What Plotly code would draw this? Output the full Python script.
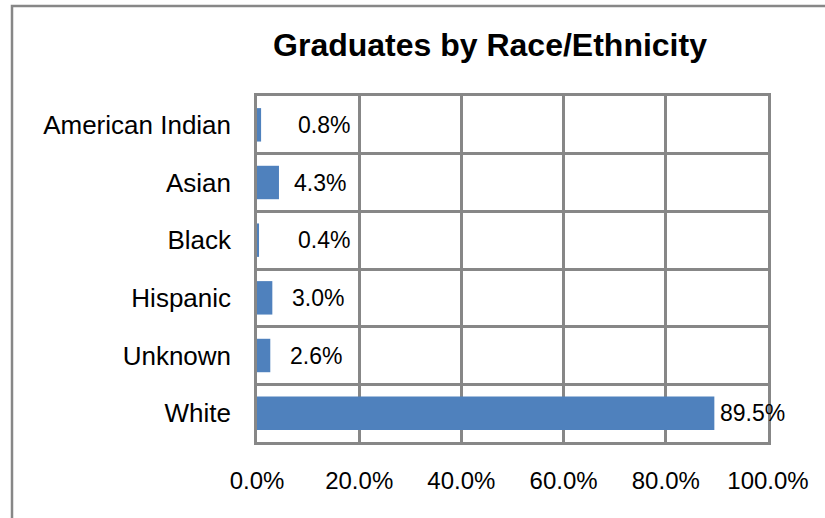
import plotly.graph_objects as go

categories = ["American Indian", "Asian", "Black", "Hispanic", "Unknown", "White"]
values = [0.8, 4.3, 0.4, 3.0, 2.6, 89.5]
label_texts = ["0.8%", "4.3%", "0.4%", "3.0%", "2.6%", "89.5%"]
label_shifts = [35, 13, 37, 18, 18, 4]
x_tickvals = [0, 20, 40, 60, 80, 100]
x_ticktext = ["0.0%", "20.0%", "40.0%", "60.0%", "80.0%", "100.0%"]

W, H = 825, 518
L, R, T, B = 257, 57, 96, 76
pw = W - L - R
ph = H - T - B

GRID = "#878787"
FONT = "Liberation Sans, Arial, sans-serif"

fig = go.Figure()
fig.add_trace(go.Bar(
    y=categories, x=values, orientation="h",
    marker=dict(color="#4F81BD", line=dict(width=0)),
    width=0.58, hoverinfo="skip",
))

for c, v, t, s in zip(categories, values, label_texts, label_shifts):
    fig.add_annotation(x=v, y=c, xref="x", yref="y", text=t, showarrow=False,
                       xanchor="left", yanchor="middle", xshift=s,
                       font=dict(family=FONT, size=23, color="#000000"))

# outer chart frame (left and top visible)
fig.add_shape(type="rect", xref="paper", yref="paper",
              x0=(12 - L) / pw, x1=2, y0=-1, y1=(H - B - 6) / ph,
              line=dict(color=GRID, width=2.5), fillcolor="rgba(0,0,0,0)", layer="below")

fig.update_layout(
    width=W, height=H,
    margin=dict(l=L, r=R, t=T, b=B, pad=0),
    paper_bgcolor="white", plot_bgcolor="white",
    showlegend=False,
    title=dict(text="<b>Graduates by Race/Ethnicity</b>",
               x=(490 - L) / pw, xref="paper", xanchor="center",
               y=1 - 45 / H, yref="container", yanchor="middle",
               font=dict(family=FONT, size=32, color="#000000")),
    font=dict(family=FONT, size=23, color="#000000"),
    xaxis=dict(range=[0, 100], tickvals=x_tickvals, ticktext=x_ticktext,
               showgrid=True, gridcolor=GRID, gridwidth=2.5,
               showline=True, linecolor=GRID, linewidth=2.5, mirror=True,
               zeroline=False, ticks="", ticklabelstandoff=15,
               tickfont=dict(family=FONT, size=24, color="#000000")),
    yaxis=dict(categoryorder="array", categoryarray=categories,
               autorange="reversed", tickson="boundaries",
               showgrid=True, gridcolor=GRID, gridwidth=2.5,
               showline=True, linecolor=GRID, linewidth=2.5, mirror=True,
               zeroline=False, ticks="", ticklabelstandoff=18,
               tickfont=dict(family=FONT, size=26, color="#000000")),
)

fig.write_html("out.html", config={"displayModeBar": False},
               post_script="document.body.style.margin='0';document.body.style.overflow='hidden';")
